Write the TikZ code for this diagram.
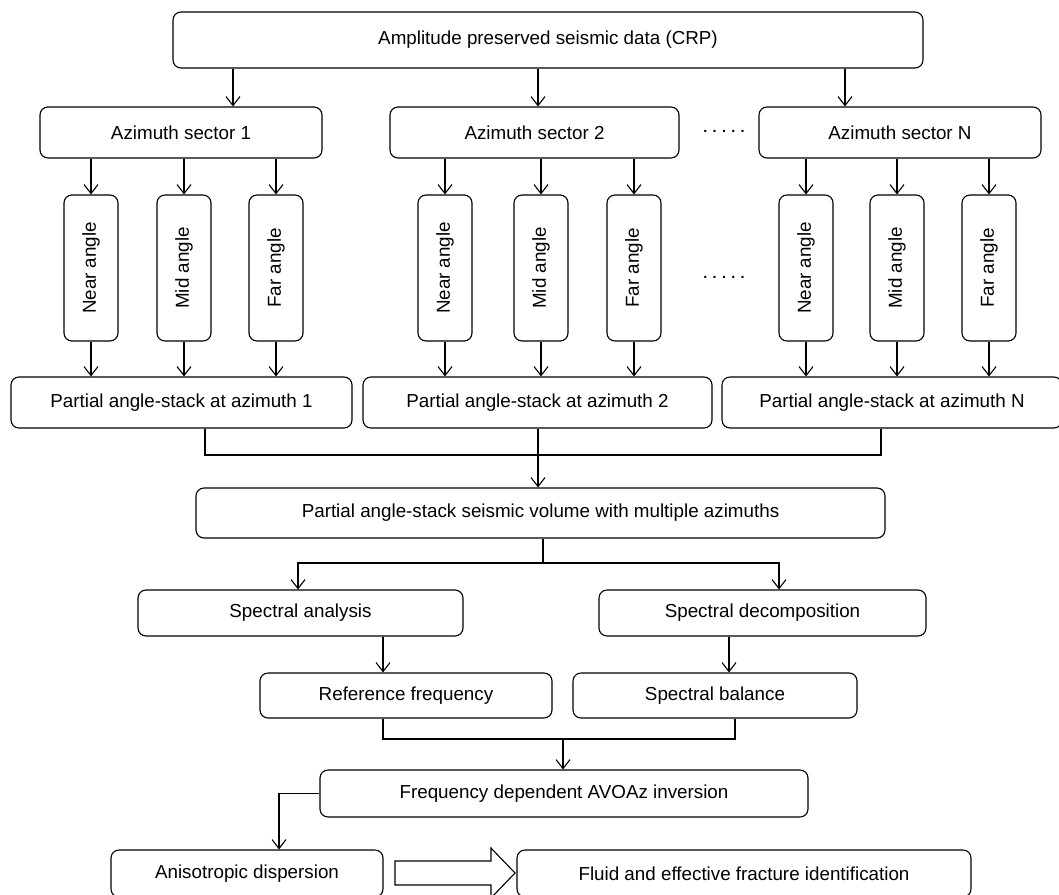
\documentclass[tikz,border=0pt]{standalone}
\usepackage{fontspec}
\usepackage{graphicx}
\setmainfont{Liberation Sans}
\usetikzlibrary{arrows.meta}

\begin{document}
\begin{tikzpicture}[x=1pt, y=-1pt, line width=1.1pt,
		box/.style={draw, rounded corners=8pt, inner sep=0pt, font=\fontsize{18.8}{22}\selectfont},
		vbox/.style={box, minimum width=54pt, minimum height=146pt},
		arr/.style={-{Straight Barb[length=9pt, width=14pt]}}]
		\useasboundingbox (0,0) rectangle (1059,894);

		\node [box, minimum width=750pt, minimum height=56pt] (crp) at (548,40) {Amplitude preserved seismic data (CRP)};

		\node [box, minimum width=282pt, minimum height=51pt] (az1) at (181,132.5) {Azimuth sector 1};
		\node [box, minimum width=289pt, minimum height=51pt] (az2) at (534.5,132.5) {Azimuth sector 2};
		\node [box, minimum width=282pt, minimum height=51pt] (azN) at (900,132.5) {Azimuth sector N};
		\node [font=\fontsize{14.4}{16}\selectfont\bfseries] (dots1) at (724,131) {. . . . .};

		\node [vbox] (near1) at (91,268)  {\rotatebox{90}{Near angle}};
		\node [vbox] (mid1)  at (184,268) {\rotatebox{90}{Mid angle}};
		\node [vbox] (far1)  at (276,268) {\rotatebox{90}{Far angle}};
		\node [vbox] (near2) at (445,268) {\rotatebox{90}{Near angle}};
		\node [vbox] (mid2)  at (541,268) {\rotatebox{90}{Mid angle}};
		\node [vbox] (far2)  at (634,268) {\rotatebox{90}{Far angle}};
		\node [vbox] (nearN) at (806,268) {\rotatebox{90}{Near angle}};
		\node [vbox] (midN)  at (897,268) {\rotatebox{90}{Mid angle}};
		\node [vbox] (farN)  at (989,268) {\rotatebox{90}{Far angle}};
		\node [font=\fontsize{14.4}{16}\selectfont\bfseries] (dots2) at (724,277) {. . . . .};

		\node [box, minimum width=341pt, minimum height=51pt] (ps1) at (181.5,402.5) {Partial angle-stack at azimuth 1};
		\node [box, minimum width=349pt, minimum height=51pt] (ps2) at (537.5,402.5) {Partial angle-stack at azimuth 2};
		\node [box, minimum width=340pt, minimum height=51pt] (psN) at (892,402.5) {Partial angle-stack at azimuth N};

		\node [box, minimum width=689pt, minimum height=50pt] (multi) at (540.5,513) {Partial angle-stack seismic volume with multiple azimuths};

		\node [box, minimum width=325pt, minimum height=46pt] (spa) at (300.5,613) {Spectral analysis};
		\node [box, minimum width=327pt, minimum height=46pt] (spd) at (762.5,613) {Spectral decomposition};
		\node [box, minimum width=292pt, minimum height=45pt] (ref) at (406,695.5) {Reference frequency};
		\node [box, minimum width=284pt, minimum height=45pt] (bal) at (715,695.5) {Spectral balance};

		\node [box, minimum width=488pt, minimum height=47pt] (freq) at (564,793.5) {Frequency dependent AVOAz inversion};
		\node [box, minimum width=272pt, minimum height=47pt] (aniso) at (247,873.5) {Anisotropic dispersion};
		\node [box, minimum width=454pt, minimum height=47pt] (fluid) at (744,873.5) {Fluid and effective fracture identification};

		% data to azimuth sectors
		\draw [arr] (crp.south -| 233,0) -- (az1.north -| 233,0);
		\draw [arr] (crp.south -| 538,0) -- (az2.north -| 538,0);
		\draw [arr] (crp.south -| 845,0) -- (azN.north -| 845,0);

		% sectors to angles to stacks
		\draw [arr] (az1.south -| near1) -- (near1.north);
		\draw [arr] (az1.south -| mid1) -- (mid1.north);
		\draw [arr] (az1.south -| far1) -- (far1.north);
		\draw [arr] (az2.south -| near2) -- (near2.north);
		\draw [arr] (az2.south -| mid2) -- (mid2.north);
		\draw [arr] (az2.south -| far2) -- (far2.north);
		\draw [arr] (azN.south -| nearN) -- (nearN.north);
		\draw [arr] (azN.south -| midN) -- (midN.north);
		\draw [arr] (azN.south -| farN) -- (farN.north);

		\draw [arr] (near1.south) -- (ps1.north -| near1);
		\draw [arr] (mid1.south) -- (ps1.north -| mid1);
		\draw [arr] (far1.south) -- (ps1.north -| far1);
		\draw [arr] (near2.south) -- (ps2.north -| near2);
		\draw [arr] (mid2.south) -- (ps2.north -| mid2);
		\draw [arr] (far2.south) -- (ps2.north -| far2);
		\draw [arr] (nearN.south) -- (psN.north -| nearN);
		\draw [arr] (midN.south) -- (psN.north -| midN);
		\draw [arr] (farN.south) -- (psN.north -| farN);

		% merge of the stacks
		\draw (ps1.south -| 205,0) -- (205,455) -| (psN.south -| 881,0);
		\draw [arr] (ps2.south -| 538,0) -- (multi.north -| 538,0);

		\coordinate (split) at (543,563);
		\draw (multi.south -| split) -- (split);
		\draw [arr] (split) -| (spa.north -| 298,0);
		\draw [arr] (split) -| (spd.north -| 779,0);

		\draw [arr] (spa.south -| 383,0) -- (ref.north -| 383,0);
		\draw [arr] (spd.south -| 729,0) -- (bal.north -| 729,0);
		\draw (ref.south -| 383,0) -- (383,739) -| (bal.south -| 735,0);
		\draw [arr] (563,739) -- (freq.north -| 563,0);

		\draw [arr] (freq.west) -| (aniso.north -| 279,0);

		% block arrow
		\draw (395,861) -- (491,861) -- (491,848) -- (515,873) -- (491,898) -- (491,885) -- (395,885) -- cycle;
	\end{tikzpicture}
\end{document}
